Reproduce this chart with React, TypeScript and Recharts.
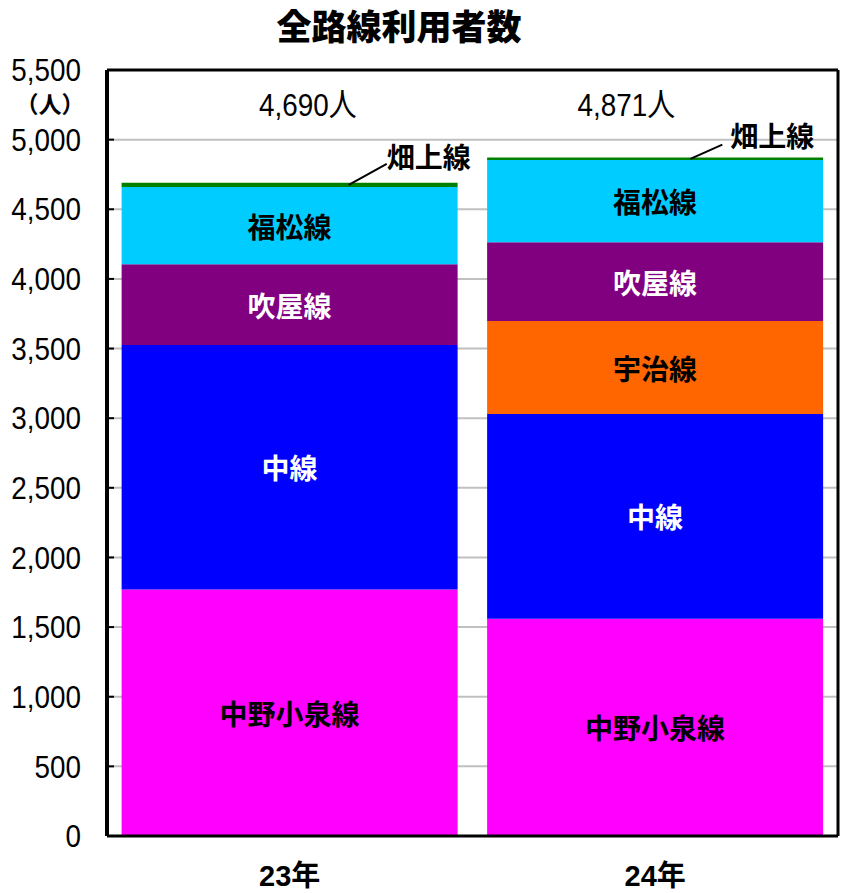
import React from 'react';
import {
  BarChart,
  Bar,
  XAxis,
  YAxis,
  CartesianGrid,
  LabelList,
  ReferenceDot,
} from 'recharts';

const years = ['23年', '24年'];
const totals = [4690, 4871];
const nakanoKoizumi = [1770, 1560];
const naka = [1755, 1470];
const uji = [null, 667];
const fukiya = [580, 567];
const fukumatsu = [555, 589];
const hatagami = [30, 18];
const yTicks = [0, 500, 1000, 1500, 2000, 2500, 3000, 3500, 4000, 4500, 5000, 5500];
const totalLabelLevel = 5250;

const data = years.map((year, i) => ({
  year,
  total: totals[i],
  nakanoKoizumi: nakanoKoizumi[i],
  naka: naka[i],
  uji: uji[i],
  fukiya: fukiya[i],
  fukumatsu: fukumatsu[i],
  hatagami: hatagami[i],
}));

const series = [
  { key: 'nakanoKoizumi', name: '中野小泉線', color: '#ff00ff', text: '#000' },
  { key: 'naka', name: '中線', color: '#0000ff', text: '#fff' },
  { key: 'uji', name: '宇治線', color: '#ff6600', text: '#000' },
  { key: 'fukiya', name: '吹屋線', color: '#800080', text: '#fff' },
  { key: 'fukumatsu', name: '福松線', color: '#00ccff', text: '#000' },
];

const numFont = '"Liberation Sans", "Noto Sans CJK JP", sans-serif';
const jpFont = '"Noto Sans CJK JP", sans-serif';
const squeeze = 0.87;

// small per-bar nudges for the hand-placed labels in the original
const totalDx = [18, -29];
const leaders = [
  { sx: 0.676, ex: 0.789, dy: -19, tdx: 0, tdy: -8 },
  { sx: 0.605, ex: 0.7, dy: -13, tdx: 8, tdy: -10 },
];

const fmt = (v: number) => v.toLocaleString('en-US');

const box = (p: any) => {
  const v = p.viewBox ?? p;
  return { x: Number(v.x), y: Number(v.y), width: Number(v.width), height: Number(v.height) };
};

const NarrowText = ({ x, y, anchor, children }: any) => (
  <text
    transform={`translate(${x},${y}) scale(${squeeze},1)`}
    x={0}
    y={0}
    textAnchor={anchor}
    dominantBaseline="central"
    fontFamily={numFont}
    fontSize={32}
    fill="#000"
  >
    {children}
  </text>
);

const centerLabel = (name: string, color: string) => (props: any) => {
  const { x, y, width, height } = box(props);
  if (props.value == null || !(height > 20)) return null;
  return (
    <text
      x={x + width / 2}
      y={y + height / 2}
      textAnchor="middle"
      dominantBaseline="central"
      fill={color}
      fontFamily={jpFont}
      fontWeight="bold"
      fontSize={28}
    >
      {name}
    </text>
  );
};

const leaderLabel = (props: any) => {
  const { x, y, width, height } = box(props);
  const l = leaders[props.index ?? 0];
  if (!l) return null;
  const sx = x + width * l.sx;
  const sy = y + height / 2;
  const ex = x + width * l.ex;
  const ey = y + l.dy;
  return (
    <g>
      <line x1={sx} y1={sy} x2={ex} y2={ey} stroke="#000" strokeWidth={2} />
      <text
        x={ex + l.tdx}
        y={ey + l.tdy}
        textAnchor="start"
        dominantBaseline="central"
        fontFamily={jpFont}
        fontWeight="bold"
        fontSize={28}
        fill="#000"
      >
        畑上線
      </text>
    </g>
  );
};

const YTick = (props: any) => {
  const { x, y, payload } = props;
  return (
    <g>
      <line x1={x} x2={x + 7} y1={y} y2={y} stroke="#000" strokeWidth={2} />
      <NarrowText x={x - 26} y={y} anchor="end">
        {fmt(payload.value)}
      </NarrowText>
      {payload.value === 5500 && (
        <text
          x={x - 57}
          y={y + 33}
          textAnchor="middle"
          dominantBaseline="central"
          fontFamily={jpFont}
          fontWeight="bold"
          fontSize={23}
          fill="#000"
        >
          （人）
        </text>
      )}
    </g>
  );
};

const XTick = (props: any) => {
  const { x, y, payload } = props;
  return (
    <text
      x={x}
      y={y + 40}
      textAnchor="middle"
      dominantBaseline="central"
      fontFamily={numFont}
      fontWeight="bold"
      fontSize={29}
      fill="#000"
    >
      {payload.value}
    </text>
  );
};

const TotalLabel = ({ viewBox, index }: any) => {
  const v = box({ viewBox });
  const cx = v.x + (v.width || 0) / 2 + (totalDx[index] ?? 0);
  const cy = v.y + (v.height || 0) / 2;
  return (
    <NarrowText x={cx} y={cy} anchor="middle">
      {fmt(totals[index])}人
    </NarrowText>
  );
};

export default function App() {
  return (
    <div style={{ position: 'absolute', left: 0, top: 0, width: 847, height: 893, background: '#fff' }}>
      <div
        style={{
          position: 'absolute',
          left: 0,
          top: 2,
          width: 798,
          height: 46,
          textAlign: 'center',
          fontFamily: jpFont,
          fontWeight: 900,
          fontSize: 35,
          lineHeight: '46px',
          color: '#000',
          zIndex: 1,
        }}
      >
        全路線利用者数
      </div>
      <BarChart
        width={847}
        height={893}
        data={data}
        margin={{ top: 70, right: 9, left: 0, bottom: 0 }}
        barCategoryGap="4%"
      >
        <CartesianGrid vertical={false} stroke="#c0c0c0" strokeWidth={2} />
        {/* plot frame: top and right edges */}
        <CartesianGrid
          stroke="#000"
          strokeWidth={3}
          horizontalCoordinatesGenerator={({ offset }: any) => [offset.top]}
          verticalCoordinatesGenerator={({ offset }: any) => [offset.left + offset.width]}
        />
        <XAxis
          dataKey="year"
          height={57}
          axisLine={{ stroke: '#000', strokeWidth: 3 }}
          tickLine={false}
          tickSize={0}
          tickMargin={0}
          tick={<XTick />}
        />
        <YAxis
          width={107}
          domain={[0, 5500]}
          ticks={yTicks}
          interval={0}
          axisLine={{ stroke: '#000', strokeWidth: 4 }}
          tickLine={false}
          tickSize={0}
          tickMargin={0}
          tick={<YTick />}
        />
        {series.map((s) => (
          <Bar key={s.key} dataKey={s.key} name={s.name} stackId="a" fill={s.color} isAnimationActive={false}>
            <LabelList dataKey={s.key} content={centerLabel(s.name, s.text)} />
          </Bar>
        ))}
        <Bar dataKey="hatagami" name="畑上線" stackId="a" fill="#008000" isAnimationActive={false}>
          <LabelList dataKey="hatagami" content={leaderLabel} />
        </Bar>
        {years.map((year, i) => (
          <ReferenceDot
            key={year}
            x={year}
            y={totalLabelLevel}
            r={0}
            fill="none"
            stroke="none"
            label={<TotalLabel index={i} />}
          />
        ))}
      </BarChart>
    </div>
  );
}
